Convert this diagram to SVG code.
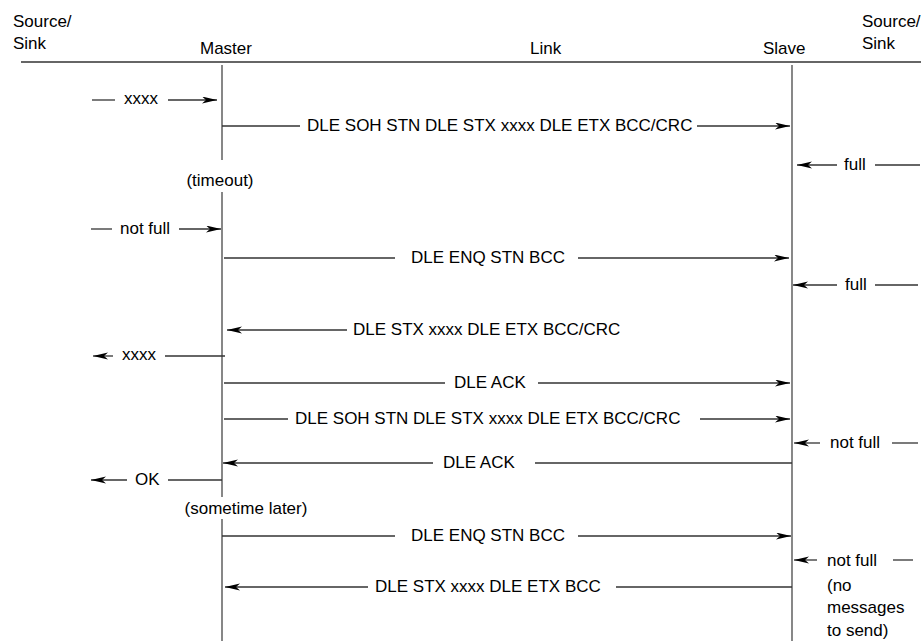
<svg xmlns="http://www.w3.org/2000/svg" width="924" height="641" viewBox="0 0 924 641">
<style>
text{font-family:"Liberation Sans",Arial,sans-serif;font-size:17px;fill:#000}
.ln{stroke:#333;stroke-width:1.3;fill:none}
.life{stroke:#555;stroke-width:1.4;fill:none}
.ar{marker-end:url(#ah)}
</style>
<defs>
<marker id="ah" markerUnits="userSpaceOnUse" markerWidth="16" markerHeight="8" refX="15" refY="3.5" orient="auto">
<path d="M0,0 L15,3.5 L0,7 L4,3.5 Z" fill="#000"/>
</marker>
</defs>
<rect width="924" height="641" fill="#fff"/>

<g id="header">
<g id="source-left"><text x="13" y="27">Source/</text><text x="13" y="49">Sink</text></g>
<g id="master"><text x="200" y="54">Master</text></g>
<g id="link"><text x="530" y="54">Link</text></g>
<g id="slave"><text x="763" y="54">Slave</text></g>
<g id="source-right"><text x="862" y="27">Source/</text><text x="862" y="49">Sink</text></g>
<line class="ln" x1="21" y1="62" x2="921" y2="62"/>
</g>

<g id="lifelines">
<path class="life" d="M222,65 V160 M222,192 V497 M222,519 V641"/>
<path class="life" d="M792,65 V641"/>
<text x="220" y="186" text-anchor="middle">(timeout)</text>
<text x="246" y="514" text-anchor="middle">(sometime later)</text>
</g>

<g id="connectors">
<!-- 1 -->
<line class="ln" x1="92" y1="100" x2="115" y2="100"/>
<text x="124" y="104">xxxx</text>
<line class="ln ar" x1="168" y1="100" x2="217" y2="100"/>
<!-- 2 -->
<line class="ln" x1="222" y1="126" x2="300" y2="126"/>
<text x="307" y="131">DLE SOH STN DLE STX xxxx DLE ETX BCC/CRC</text>
<line class="ln ar" x1="697" y1="126" x2="790" y2="126"/>
<!-- 3 -->
<line class="ln ar" x1="837" y1="165" x2="797" y2="165"/>
<text x="844" y="170">full</text>
<line class="ln" x1="875" y1="165" x2="920" y2="165"/>
<!-- 4 -->
<line class="ln" x1="91" y1="229" x2="112" y2="229"/>
<text x="120" y="234">not full</text>
<line class="ln ar" x1="179" y1="229" x2="221" y2="229"/>
<!-- 5 -->
<line class="ln" x1="224" y1="258" x2="395" y2="258"/>
<text x="411" y="263">DLE ENQ STN BCC</text>
<line class="ln ar" x1="578" y1="258" x2="789" y2="258"/>
<!-- 6 -->
<line class="ln ar" x1="837" y1="285" x2="793" y2="285"/>
<text x="845" y="290">full</text>
<line class="ln" x1="875" y1="285" x2="918" y2="285"/>
<!-- 7 -->
<line class="ln ar" x1="347" y1="330" x2="227" y2="330"/>
<text x="353" y="335">DLE STX xxxx DLE ETX BCC/CRC</text>
<!-- 8 -->
<line class="ln ar" x1="113" y1="356" x2="93" y2="356"/>
<text x="122" y="360">xxxx</text>
<line class="ln" x1="165" y1="356" x2="225" y2="356"/>
<!-- 9 -->
<line class="ln" x1="224" y1="383" x2="445" y2="383"/>
<text x="454" y="388">DLE ACK</text>
<line class="ln ar" x1="538" y1="383" x2="790" y2="383"/>
<!-- 10 -->
<line class="ln" x1="224" y1="419" x2="288" y2="419"/>
<text x="295" y="424">DLE SOH STN DLE STX xxxx DLE ETX BCC/CRC</text>
<line class="ln ar" x1="700" y1="419" x2="790" y2="419"/>
<!-- 11 -->
<line class="ln ar" x1="820" y1="443" x2="794" y2="443"/>
<text x="830" y="448">not full</text>
<line class="ln" x1="892" y1="443" x2="918" y2="443"/>
<!-- 12 -->
<line class="ln ar" x1="433" y1="463" x2="223" y2="463"/>
<text x="443" y="468">DLE ACK</text>
<line class="ln" x1="535" y1="463" x2="792" y2="463"/>
<!-- 13 -->
<line class="ln ar" x1="127" y1="480" x2="91" y2="480"/>
<text x="135" y="485">OK</text>
<line class="ln" x1="168" y1="480" x2="222" y2="480"/>
<!-- 14 -->
<line class="ln" x1="222" y1="536" x2="395" y2="536"/>
<text x="411" y="541">DLE ENQ STN BCC</text>
<line class="ln ar" x1="578" y1="536" x2="791" y2="536"/>
<!-- 15 -->
<line class="ln ar" x1="817" y1="560" x2="794" y2="560"/>
<text x="827" y="566">not full</text>
<line class="ln" x1="893" y1="560" x2="913" y2="560"/>
<text x="827" y="591">(no</text>
<text x="827" y="613">messages</text>
<text x="827" y="636">to send)</text>
<!-- 16 -->
<line class="ln ar" x1="368" y1="587" x2="225" y2="587"/>
<text x="375" y="592">DLE STX xxxx DLE ETX BCC</text>
<line class="ln" x1="616" y1="587" x2="792" y2="587"/>
</g>
</svg>
